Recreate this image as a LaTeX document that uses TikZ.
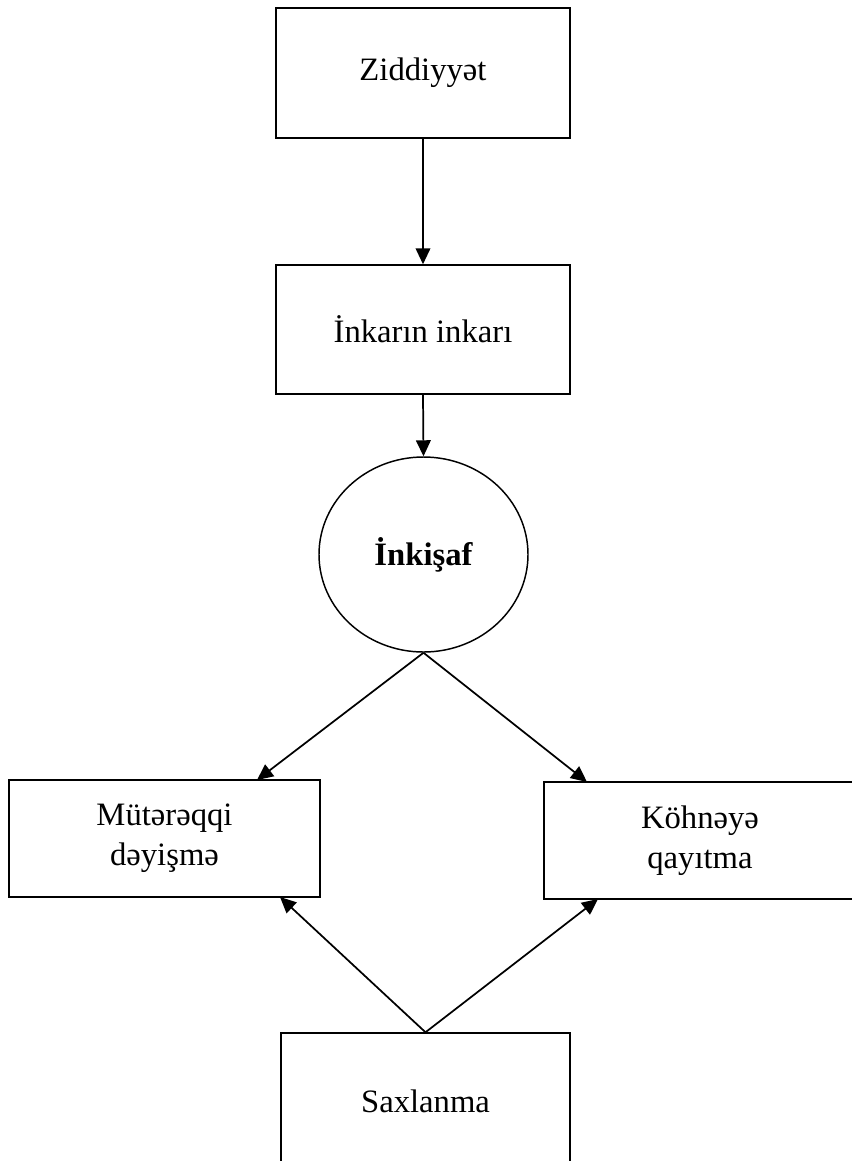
\documentclass[tikz,border=0pt]{standalone}
\usepackage{fontspec}
\setmainfont{Liberation Serif}
\usetikzlibrary{arrows.meta,shapes.geometric}
\begin{document}
\begin{tikzpicture}[x=0.75pt,y=-0.75pt,
  box/.style={draw,line width=1.1pt,rectangle,inner sep=0pt,align=center,font=\fontsize{24.5}{30}\selectfont},
  oval/.style={draw,line width=1.1pt,ellipse,inner sep=0pt,font=\fontsize{24.5}{30}\selectfont\bfseries},
  arr/.style={line width=1.3pt,-{Triangle[length=12pt,width=11pt]}}]
\useasboundingbox (0,0) rectangle (852,1161);
\clip (0,0) rectangle (852,1161);
\fill[white] (0,0) rectangle (852,1161);
\node[box,minimum width=220.5pt,minimum height=97.5pt] (zid) at (423,73) {Ziddiyyət};
\node[box,minimum width=220.5pt,minimum height=96.75pt] (ink) at (423,329.5) {İnkarın inkarı};
\node[oval,minimum width=156.75pt,minimum height=146.25pt] (dev) at (423.5,554.5) {İnkişaf};
\node[box,minimum width=233.25pt,minimum height=87.75pt] (mut) at (164.5,838.5) {Mütərəqqi\\dəyişmə};
\node[box,minimum width=234pt,minimum height=87.75pt] (kohn) at (700,840.5) {Köhnəyə\\qayıtma};
\node[box,minimum width=216.75pt,minimum height=102.75pt] (sax) at (425.5,1101.5) {Saxlanma};
\coordinate (mutTop) at (257,780);
\coordinate (kohnTop) at (587,782);
\coordinate (mutBot) at (280,897);
\coordinate (kohnBot) at (598,899);
\draw[arr] (zid.south) -- (ink.north);
\draw[arr] (ink.south) -- (dev.north);
\draw[arr] (dev.south) -- (mutTop);
\draw[arr] (dev.south) -- (kohnTop);
\draw[arr] (sax.north) -- (mutBot);
\draw[arr] (sax.north) -- (kohnBot);
\end{tikzpicture}
\end{document}
